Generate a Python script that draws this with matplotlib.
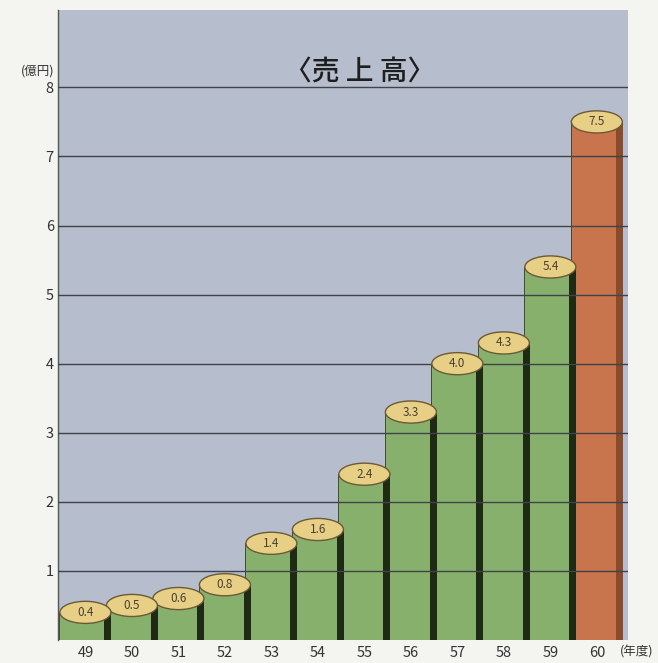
import matplotlib
matplotlib.use("Agg")
import matplotlib.pyplot as plt
from matplotlib.patches import Rectangle, Ellipse

plt.rcParams['font.family'] = ['Noto Sans CJK JP', 'DejaVu Sans']

years = ["49", "50", "51", "52", "53", "54", "55", "56", "57", "58", "59", "60"]
sales = [0.4, 0.5, 0.6, 0.8, 1.4, 1.6, 2.4, 3.3, 4.0, 4.3, 5.4, 7.5]
value_labels = ["0.4", "0.5", "0.6", "0.8", "1.4", "1.6", "2.4", "3.3", "4.0", "4.3", "5.4", "7.5"]
yticks = [1, 2, 3, 4, 5, 6, 7, 8]
title = "〈売 上 高〉"
y_unit = "(億円)"
x_unit = "(年度)"

panel_c = "#b6bdcc"
green = "#86b06c"
green_dark = "#1f2a14"
brown = "#c8754e"
brown_dark = "#8a4a2c"
top_c = "#e8cf86"
rim_c = "#6b5a36"

fig = plt.figure(figsize=(6.58, 6.63), dpi=100, facecolor="#f4f4f1")
ax = fig.add_axes([58/658, 23/663, 570/658, 630/663])
ax.set_facecolor(panel_c)

n = len(sales)
w = 1.12
s = 0.15
eh = 0.32
ax.set_xlim(-0.59, 11.67)
ax.set_ylim(0, 9.12)

for i in range(n - 1, -1, -1):
    v = sales[i]
    last = (i == n - 1)
    body = brown if last else green
    dark = brown_dark if last else green_dark
    z = 2 + (n - i) * 0.01
    ax.add_patch(Rectangle((i - w/2, 0), w, v, facecolor=body, edgecolor="none", zorder=z))
    ax.add_patch(Rectangle((i + w/2 - s, 0), s, v, facecolor=dark, edgecolor="none", zorder=z + 0.001))
    ax.plot([i - w/2, i - w/2], [0, v], color="#3a3a2a", lw=0.6, zorder=z + 0.002)
    ez = 6 + (n - i) * 0.01
    ax.add_patch(Ellipse((i, v), w * 0.98, eh, facecolor=top_c, edgecolor=rim_c, lw=1.0, zorder=ez))
    ax.text(i, v, value_labels[i], ha="center", va="center", fontsize=8.5,
            color="#4a4030", zorder=ez + 0.001)

for y in yticks:
    ax.axhline(y, color="#40434a", lw=1.0, zorder=5)

ax.set_yticks(yticks)
ax.set_yticklabels([str(t) for t in yticks], fontsize=10.5, color="#333333")
ax.set_xticks(range(n))
ax.set_xticklabels(years, fontsize=10.5, color="#333333")
ax.tick_params(length=0, pad=4)
ax.tick_params(axis="y", pad=3)

for side in ["top", "right", "bottom"]:
    ax.spines[side].set_visible(False)
ax.spines["left"].set_color("#555555")
ax.spines["left"].set_linewidth(1.0)

fig.text(360/658, 1 - 72/663, title, fontsize=20, ha="center", va="center",
         color="#1e1e1e", fontweight="medium")
fig.text(38/658, 1 - 71/663, y_unit, fontsize=9, ha="center", va="center", color="#333333")
fig.text(637/658, 1 - 652/663, x_unit, fontsize=9, ha="center", va="center", color="#333333")

fig.savefig("out.png", dpi=100, facecolor=fig.get_facecolor())
